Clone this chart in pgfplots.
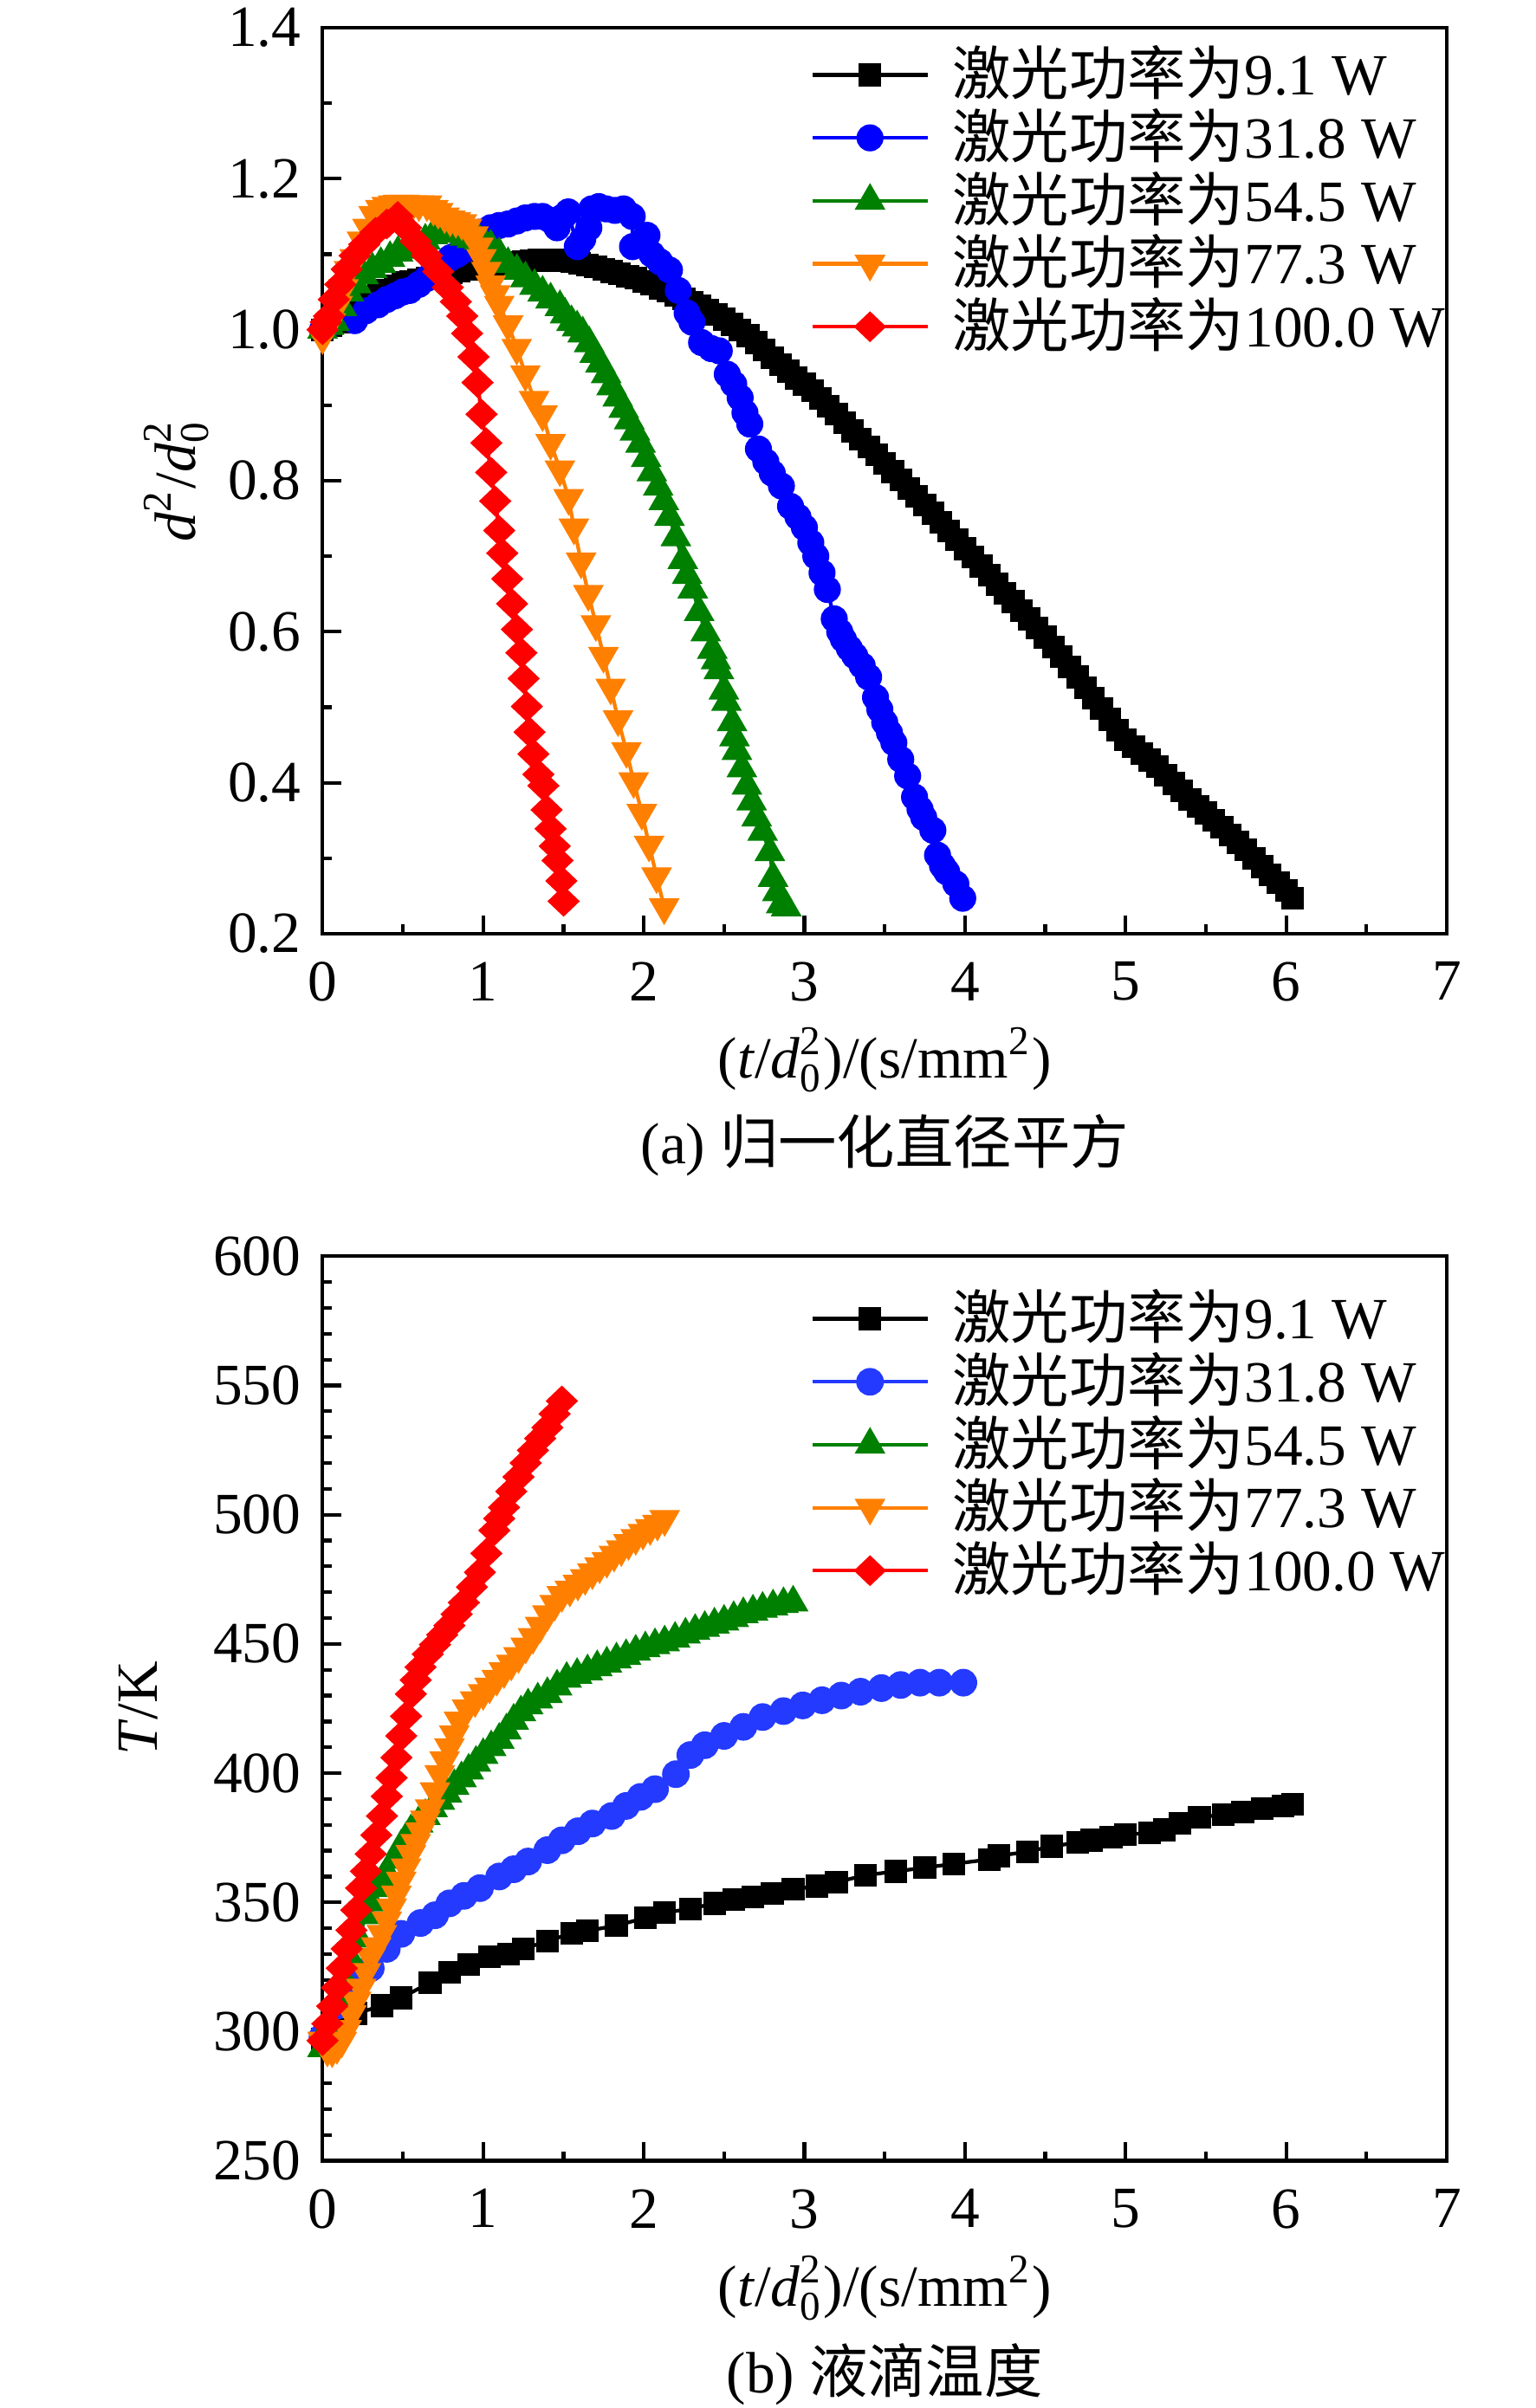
\documentclass[border=0pt]{standalone}
\usepackage{fontspec}
\setmainfont{Liberation Serif}
\newfontfamily\cjk{Noto Sans CJK SC}
\usepackage{pgfplots}
\pgfplotsset{compat=1.18}
\definecolor{cblk}{RGB}{0,0,0}
\definecolor{cblu}{RGB}{0,0,255}
\definecolor{cblub}{RGB}{36,58,255}
\definecolor{cgrn}{RGB}{0,128,0}
\definecolor{corg}{RGB}{255,128,0}
\definecolor{cred}{RGB}{255,0,0}
\newcommand{\fs}{\fontsize{9.5pt}{11pt}\selectfont}
\pgfplotsset{
  myaxis/.style={
    scale only axis,
    width=183pt,
    clip=false,
    xmin=0, xmax=7,
    xtick={0,1,...,7},
    minor x tick num=1,
    tick align=inside,
    xtick pos=bottom, ytick pos=left,
    major tick length=3pt, minor tick length=1.5pt,
    axis line style={line width=0.6pt},
    tick style={line width=0.6pt, black},
    /pgf/number format/assume math mode=true,
    ticklabel style={font=\fs},
    xticklabel style={yshift=-1.1pt},
    label style={font=\fs, inner sep=0pt},
    legend style={draw=none, fill=none, inner sep=0pt, row sep=0pt,
      column sep=3.75pt, nodes={inner sep=0pt, minimum height=10.25pt},
      font=\fs},
    legend cell align=left,
    legend image code/.code={\draw[mark repeat=2,mark phase=2,#1] plot coordinates {(0pt,0pt) (9.375pt,0pt) (18.75pt,0pt)};},
    every axis plot/.append style={line width=0.6pt},
  },
  sblk/.style={color=cblk, mark=square*, mark size=1.55pt, mark options={solid}},
  sblu/.style={color=cblu, mark=*, mark size=1.9pt, mark options={solid}},
  sblub/.style={color=cblub, mark=*, mark size=1.95pt, mark options={solid}},
  sgrn/.style={color=cgrn, mark=triangle*, mark size=2.3pt, mark options={solid}},
  sorg/.style={color=corg, mark=triangle*, mark size=2.3pt, mark options={solid, rotate=180}},
  sred/.style={color=cred, mark=diamond*, mark size=2.1pt, mark options={solid, xscale=1.4}},
}
\begin{document}
\begin{tikzpicture}
\path[use as bounding box] (-52.5pt,-240pt) rectangle (197.5pt,152pt);
% ---------------- (a)
\begin{axis}[myaxis, name=top, at={(0pt,0pt)}, anchor=south west,
  height=147.5pt,
  ymin=0.2, ymax=1.4, ytick={0.2,0.4,...,1.41}, minor y tick num=1,
  yticklabel style={/pgf/number format/fixed, /pgf/number format/fixed zerofill, /pgf/number format/precision=1},
  xlabel={(\textit{t}/\textit{d}$_{\mathrm{0}}^{\mathrm{2}}$)/(s/mm\textsuperscript{2})},
  xlabel style={at={(axis description cs:0.5,-0.139)}, anchor=center},
  ylabel={\textit{d}\textsuperscript{2}/\textit{d}$_{\mathrm{0}}^{\mathrm{2}}$},
  ylabel style={at={(axis description cs:-0.1298,0.5)}, anchor=center},
  legend style={at={(0.433,0.984)}, anchor=north west},
]
\addplot[sblk] coordinates {
(0.00,1.000) (0.05,1.005) (0.10,1.010) (0.15,1.018) (0.20,1.024) (0.25,1.030) (0.30,1.038) (0.35,1.045) (0.40,1.052) (0.45,1.058) (0.50,1.062) (0.55,1.064) (0.60,1.066) (0.65,1.068) (0.70,1.070) (0.75,1.073) (0.80,1.075) (0.85,1.078) (0.90,1.080) (0.95,1.082) (1.00,1.084) (1.05,1.086) (1.10,1.087) (1.15,1.088) (1.20,1.089) (1.25,1.090) (1.30,1.091) (1.35,1.092) (1.40,1.092) (1.45,1.092) (1.50,1.091) (1.55,1.090) (1.60,1.088) (1.65,1.086) (1.70,1.083) (1.75,1.080) (1.80,1.077) (1.85,1.074) (1.90,1.071) (1.95,1.068) (2.00,1.064) (2.05,1.060) (2.10,1.055) (2.15,1.051) (2.20,1.046) (2.25,1.041) (2.30,1.036) (2.35,1.031) (2.40,1.026) (2.45,1.020) (2.50,1.014) (2.55,1.007) (2.60,1.000) (2.65,0.992) (2.70,0.983) (2.75,0.973) (2.80,0.963) (2.85,0.954) (2.90,0.945) (2.95,0.936) (3.00,0.928) (3.05,0.919) (3.10,0.909) (3.15,0.899) (3.20,0.888) (3.25,0.877) (3.30,0.866) (3.35,0.855) (3.40,0.845) (3.45,0.834) (3.50,0.823) (3.55,0.812) (3.60,0.801) (3.65,0.790) (3.70,0.779) (3.75,0.768) (3.80,0.757) (3.85,0.745) (3.90,0.733) (3.95,0.722) (4.00,0.710) (4.05,0.699) (4.10,0.687) (4.15,0.675) (4.20,0.663) (4.25,0.651) (4.30,0.640) (4.35,0.628) (4.40,0.617) (4.45,0.605) (4.50,0.593) (4.55,0.580) (4.60,0.567) (4.65,0.553) (4.70,0.540) (4.75,0.526) (4.80,0.512) (4.85,0.498) (4.90,0.484) (4.95,0.470) (5.00,0.457) (5.05,0.448) (5.10,0.439) (5.15,0.430) (5.20,0.421) (5.25,0.410) (5.30,0.399) (5.35,0.389) (5.40,0.378) (5.45,0.369) (5.50,0.360) (5.55,0.350) (5.60,0.341) (5.65,0.331) (5.70,0.321) (5.75,0.311) (5.80,0.300) (5.85,0.289) (5.90,0.278) (5.95,0.268) (6.00,0.257) (6.04,0.247)
};
\addlegendentry{{\cjk 激光功率为}9.1 W}
\addplot[sblu] coordinates {
(0,1.0) (0.05,1.008) (0.11,1.018) (0.2,1.012) (0.27,1.025) (0.345,1.033) (0.4,1.04) (0.453,1.045) (0.5,1.05) (0.543,1.052) (0.6,1.06) (0.65,1.068) (0.723,1.083) (0.795,1.095) (0.84,1.1) (0.885,1.106) (0.93,1.118) (0.975,1.129) (1.047,1.135) (1.1,1.138) (1.155,1.14) (1.21,1.144) (1.263,1.148) (1.32,1.15) (1.37,1.15) (1.42,1.145) (1.46,1.135) (1.5,1.15) (1.53,1.156) (1.586,1.11) (1.62,1.12) (1.658,1.135) (1.676,1.16) (1.72,1.163) (1.766,1.16) (1.82,1.158) (1.874,1.16) (1.928,1.15) (1.93,1.11) (2.02,1.125) (2.05,1.10) (2.1,1.09) (2.16,1.079) (2.215,1.052) (2.27,1.022) (2.3,1.01) (2.36,0.983) (2.42,0.975) (2.47,0.972) (2.52,0.941) (2.56,0.928) (2.6,0.91) (2.63,0.89) (2.66,0.875) (2.714,0.842) (2.76,0.825) (2.8,0.81) (2.857,0.793) (2.914,0.766) (2.96,0.752) (3.0,0.738) (3.04,0.718) (3.071,0.70) (3.11,0.678) (3.143,0.656) (3.186,0.617) (3.22,0.60) (3.243,0.59) (3.28,0.578) (3.314,0.568) (3.36,0.555) (3.4,0.54) (3.443,0.513) (3.47,0.497) (3.5,0.48) (3.53,0.466) (3.557,0.453) (3.6,0.431) (3.643,0.409) (3.686,0.381) (3.72,0.365) (3.743,0.354) (3.8,0.337) (3.829,0.304) (3.86,0.29) (3.886,0.282) (3.943,0.266) (3.986,0.247)
};
\addlegendentry{{\cjk 激光功率为}31.8 W}
\addplot[sgrn] coordinates {
(0,1.0) (0.04,1.005) (0.075,1.01) (0.12,1.03) (0.165,1.049) (0.21,1.06) (0.255,1.072) (0.31,1.08) (0.363,1.087) (0.42,1.095) (0.47,1.102) (0.52,1.106) (0.58,1.11) (0.64,1.118) (0.687,1.125) (0.73,1.128) (0.777,1.129) (0.83,1.127) (0.885,1.123) (0.93,1.12) (0.975,1.118) (1.01,1.114) (1.047,1.11) (1.1,1.1) (1.155,1.087) (1.21,1.078) (1.263,1.068) (1.32,1.058) (1.37,1.049) (1.42,1.04) (1.478,1.03) (1.51,1.02) (1.55,1.01) (1.585,1.003) (1.62,0.995) (1.66,0.982) (1.695,0.968) (1.73,0.955) (1.766,0.941) (1.8,0.925) (1.838,0.91) (1.875,0.895) (1.91,0.88) (1.945,0.865) (1.98,0.849) (2.015,0.83) (2.05,0.811) (2.09,0.792) (2.125,0.773) (2.16,0.752) (2.2,0.725) (2.243,0.695) (2.27,0.675) (2.305,0.656) (2.345,0.626) (2.386,0.599) (2.427,0.576) (2.45,0.562) (2.468,0.549) (2.499,0.522) (2.515,0.507) (2.55,0.48) (2.565,0.46) (2.58,0.442) (2.611,0.419) (2.642,0.396) (2.672,0.375) (2.703,0.354) (2.74,0.335) (2.785,0.308) (2.805,0.274) (2.832,0.255) (2.856,0.239) (2.887,0.235)
};
\addlegendentry{{\cjk 激光功率为}54.5 W}
\addplot[sorg] coordinates {
(0,0.99) (0.05,1.01) (0.094,1.033) (0.13,1.055) (0.165,1.079) (0.2,1.095) (0.246,1.118) (0.28,1.135) (0.318,1.152) (0.36,1.16) (0.4,1.164) (0.44,1.166) (0.47,1.167) (0.51,1.167) (0.56,1.166) (0.6,1.166) (0.65,1.166) (0.69,1.16) (0.72,1.156) (0.76,1.15) (0.795,1.146) (0.83,1.144) (0.867,1.141) (0.9,1.135) (0.94,1.125) (0.97,1.11) (0.99,1.095) (1.02,1.078) (1.047,1.06) (1.075,1.047) (1.1,1.033) (1.155,1.007) (1.209,0.976) (1.263,0.941) (1.317,0.907) (1.37,0.888) (1.42,0.85) (1.478,0.815) (1.532,0.777) (1.565,0.738) (1.61,0.693) (1.655,0.650) (1.702,0.610) (1.749,0.568) (1.794,0.526) (1.84,0.484) (1.892,0.442) (1.937,0.402) (1.988,0.360) (2.033,0.318) (2.08,0.276) (2.127,0.235)
};
\addlegendentry{{\cjk 激光功率为}77.3 W}
\addplot[sred] coordinates {
(0,1.0) (0.02,1.01) (0.04,1.018) (0.07,1.04) (0.11,1.06) (0.15,1.08) (0.2,1.098) (0.26,1.113) (0.33,1.129) (0.4,1.14) (0.468,1.150) (0.52,1.135) (0.58,1.117) (0.65,1.098) (0.72,1.077) (0.78,1.056) (0.83,1.037) (0.87,1.018) (0.9,0.995) (0.94,0.964) (0.965,0.93) (0.99,0.888) (1.02,0.85) (1.05,0.811) (1.075,0.773) (1.1,0.734) (1.119,0.704) (1.15,0.670) (1.18,0.637) (1.21,0.603) (1.238,0.572) (1.252,0.538) (1.272,0.501) (1.289,0.467) (1.313,0.438) (1.344,0.411) (1.375,0.396) (1.395,0.364) (1.42,0.339) (1.446,0.316) (1.463,0.297) (1.487,0.270) (1.501,0.243)
};
\addlegendentry{{\cjk 激光功率为}100.0 W}
\end{axis}
\node[font=\fs, anchor=center, inner sep=0pt] at (91.5pt,-34.5pt) {(a) {\cjk 归一化直径平方}};
% ---------------- (b)
\begin{axis}[myaxis, name=bot, at={(0pt,-199.75pt)}, anchor=south west,
  height=147.25pt,
  ymin=250, ymax=600, ytick={250,300,...,600}, minor y tick num=4,
  xlabel={(\textit{t}/\textit{d}$_{\mathrm{0}}^{\mathrm{2}}$)/(s/mm\textsuperscript{2})},
  xlabel style={at={(axis description cs:0.5,-0.1409)}, anchor=center},
  ylabel={\textit{T}/K},
  ylabel style={at={(axis description cs:-0.164,0.5)}, anchor=center},
  legend style={at={(0.433,0.967)}, anchor=north west},
]
\addplot[sblk] coordinates {
(0,297) (0.09,301) (0.21,307) (0.37,310) (0.49,313) (0.67,319) (0.79,323) (0.91,326) (1.04,329) (1.16,330) (1.25,332) (1.4,335) (1.55,338) (1.65,339) (1.83,341) (2.01,344) (2.13,346) (2.29,347.5) (2.44,349.6) (2.56,351) (2.68,352) (2.8,353.4) (2.93,355) (3.08,356.3) (3.2,357.8) (3.38,360.5) (3.57,362) (3.75,363.4) (3.93,364.9) (4.15,366.6) (4.21,368) (4.39,369.6) (4.54,371.7) (4.7,373.1) (4.79,374) (4.91,375.2) (5.0,376.1) (5.15,377) (5.24,378.1) (5.34,380.5) (5.46,382.9) (5.61,384) (5.73,384.9) (5.85,386.4) (5.98,387.3) (6.04,387.9)
};
\addlegendentry{{\cjk 激光功率为}9.1 W}
\addplot[sblub] coordinates {
(0,298) (0.09,310) (0.18,319) (0.3,324.5) (0.4,332) (0.49,337.8) (0.61,342) (0.7,345) (0.79,349.6) (0.88,352.5) (0.98,355.5) (1.1,360) (1.19,362.8) (1.28,365.8) (1.4,370.2) (1.49,374) (1.59,377.5) (1.68,380.5) (1.8,383.4) (1.89,387.3) (1.98,390.8) (2.07,393.8) (2.2,399.6) (2.29,407) (2.38,410.8) (2.5,414.4) (2.62,417.9) (2.74,421.7) (2.87,424) (2.99,426.2) (3.11,428.2) (3.23,430) (3.35,431.5) (3.48,432.9) (3.6,434.1) (3.72,435) (3.84,435) (3.99,435)
};
\addlegendentry{{\cjk 激光功率为}31.8 W}
\addplot[sgrn] coordinates {
(0,293.6) (0.045,303) (0.09,312.7) (0.135,320) (0.18,327.5) (0.225,336) (0.27,345) (0.305,350) (0.34,355.5) (0.37,358.5) (0.4,361.3) (0.445,366.5) (0.49,371.7) (0.52,374.6) (0.55,377.5) (0.595,380.5) (0.64,383.4) (0.685,386.4) (0.73,389.3) (0.775,392) (0.82,395) (0.865,398) (0.91,401) (0.955,404) (1.0,407) (1.05,410) (1.1,412.9) (1.145,416.5) (1.19,420.3) (1.235,423.5) (1.28,426.2) (1.34,428.5) (1.4,430.6) (1.46,433.5) (1.52,436.5) (1.585,438) (1.65,439.4) (1.71,441) (1.77,442.4) (1.83,444) (1.89,445.3) (1.95,447) (2.01,448.3) (2.07,449.5) (2.13,450.6) (2.195,452) (2.26,453.6) (2.32,455) (2.38,456.2) (2.44,457.5) (2.5,458.6) (2.56,460) (2.62,461.5) (2.68,462.5) (2.74,463.6) (2.805,464.5) (2.87,465.4) (2.93,466)
};
\addlegendentry{{\cjk 激光功率为}54.5 W}
\addplot[sorg] coordinates {
(0,296.5) (0.03,293) (0.06,292.7) (0.09,294) (0.12,296.5) (0.15,301) (0.18,306.8) (0.21,312) (0.24,317) (0.27,323) (0.3,328.9) (0.335,333) (0.37,337.8) (0.4,343) (0.43,348) (0.46,353) (0.49,358.4) (0.52,363.5) (0.55,368.7) (0.58,373) (0.61,377.5) (0.64,382) (0.67,386.4) (0.7,393) (0.73,399.6) (0.76,405) (0.79,410) (0.82,415) (0.85,420.3) (0.9,425) (0.95,428.2) (1.0,431) (1.04,433.5) (1.085,436.5) (1.13,439.4) (1.175,442.4) (1.22,445.3) (1.265,449) (1.31,452.7) (1.355,457) (1.4,461.5) (1.445,465.5) (1.49,468.9) (1.54,471) (1.59,473.3) (1.635,475.5) (1.68,477.7) (1.725,480) (1.77,482.1) (1.815,484.5) (1.86,486.6) (1.905,489) (1.95,491) (1.995,493) (2.04,494.8) (2.085,496.5) (2.13,498.3)
};
\addlegendentry{{\cjk 激光功率为}77.3 W}
\addplot[sred] coordinates {
(0,296.5) (0.03,303) (0.06,309.8) (0.09,317) (0.12,324.5) (0.15,332) (0.18,339.2) (0.21,347) (0.24,355.5) (0.27,362) (0.3,368.7) (0.335,376) (0.37,383.4) (0.4,391) (0.43,398.2) (0.46,406) (0.49,414.4) (0.52,422) (0.55,430.6) (0.58,436) (0.61,441) (0.655,446) (0.7,449.7) (0.745,453.5) (0.79,457.1) (0.835,461.5) (0.88,466) (0.93,472) (0.98,477.7) (1.02,485) (1.07,493.9) (1.1,498.5) (1.13,502.8) (1.175,509) (1.22,514.6) (1.265,520) (1.31,524.9) (1.355,529.5) (1.4,533.7) (1.445,539) (1.49,544)
};
\addlegendentry{{\cjk 激光功率为}100.0 W}
\end{axis}
\node[font=\fs, anchor=center, inner sep=0pt] at (91.5pt,-234.5pt) {(b) {\cjk 液滴温度}};
\end{tikzpicture}
\end{document}
